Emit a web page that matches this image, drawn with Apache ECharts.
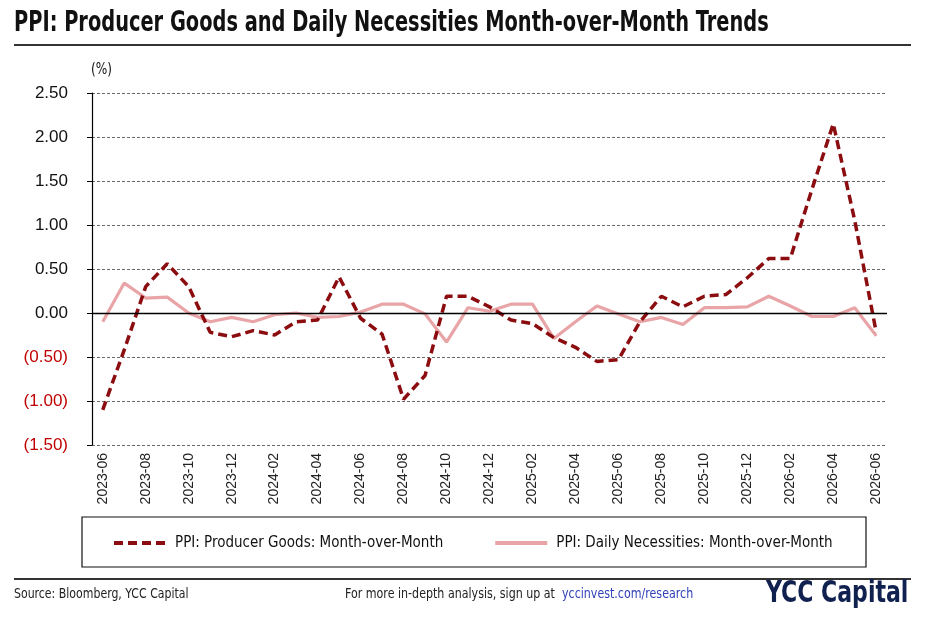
<!DOCTYPE html>
<html>
<head>
<meta charset="utf-8">
<script src="https://cdn.jsdelivr.net/npm/echarts@6/dist/echarts.min.js"></script>
<style>
  html, body { margin: 0; padding: 0; background: #fff; }
  #main { width: 926px; height: 627px; }
</style>
</head>
<body>
<div id="main"></div>
<script>
    // months on the x axis
    var months = [
        '2023-06','2023-07','2023-08','2023-09','2023-10','2023-11','2023-12',
        '2024-01','2024-02','2024-03','2024-04','2024-05','2024-06','2024-07','2024-08','2024-09','2024-10','2024-11','2024-12',
        '2025-01','2025-02','2025-03','2025-04','2025-05','2025-06','2025-07','2025-08','2025-09','2025-10','2025-11','2025-12',
        '2026-01','2026-02','2026-03','2026-04','2026-05','2026-06'
    ];
    // PPI producer goods, MoM (%)
    var producerGoods = [
        -1.10, -0.42, 0.30, 0.56, 0.30, -0.22, -0.27,
        -0.20, -0.25, -0.10, -0.08, 0.41, -0.06, -0.24, -0.98, -0.71, 0.19, 0.19, 0.07,
        -0.08, -0.12, -0.28, -0.39, -0.55, -0.53, -0.10, 0.19, 0.07, 0.19, 0.21, 0.40,
        0.62, 0.62, 1.40, 2.15, 1.05, -0.22
    ];
    // PPI daily necessities, MoM (%)
    var dailyNecessities = [
        -0.10, 0.34, 0.17, 0.18, 0.00, -0.10, -0.05,
        -0.10, -0.02, 0.00, -0.05, -0.04, 0.01, 0.10, 0.10, -0.01, -0.33, 0.06, 0.02,
        0.10, 0.10, -0.29, -0.10, 0.08, -0.01, -0.10, -0.05, -0.13, 0.06, 0.06, 0.07,
        0.19, 0.08, -0.04, -0.04, 0.06, -0.26
    ];
    var seriesNames = ['PPI: Producer Goods: Month-over-Month', 'PPI: Daily Necessities: Month-over-Month'];

    var narrow = "'DejaVu Sans Condensed', 'Liberation Sans Narrow', 'Roboto', sans-serif";
    var plain = "'Liberation Sans', Arial, sans-serif";

    var myChart = echarts.init(document.getElementById('main'));

    var option = {
        backgroundColor: '#fff',
        animation: false,
        grid: { left: 92, right: 39, top: 93, bottom: 182 },
        legend: {
            left: 107,
            top: 530,
            itemWidth: 52,
            itemHeight: 20,
            itemGap: 50,
            itemStyle: { opacity: 0 },
            lineStyle: { width: 4 },
            textStyle: { fontFamily: narrow, fontSize: 15, color: '#111', padding: [0, 0, 0, 4] },
            data: seriesNames
        },
        xAxis: {
            type: 'category',
            data: months,
            boundaryGap: true,
            axisLine: { show: false },
            axisTick: { show: false },
            axisLabel: {
                interval: 1,
                rotate: 90,
                margin: 8,
                fontFamily: plain,
                fontSize: 14,
                color: '#222'
            }
        },
        yAxis: {
            type: 'value',
            min: -1.5,
            max: 2.5,
            interval: 0.5,
            axisLine: { show: true, lineStyle: { color: '#000', width: 1.2 } },
            axisTick: { show: true, length: 5, lineStyle: { color: '#000' } },
            splitLine: { lineStyle: { color: '#444', width: 0.8, type: [3, 2] } },
            axisLabel: {
                margin: 24,
                fontFamily: plain,
                fontSize: 17,
                formatter: function (v) {
                    return v < 0 ? '(' + Math.abs(v).toFixed(2) + ')' : v.toFixed(2);
                },
                color: function (v) {
                    return Number(v) < 0 ? '#c00000' : '#111';
                }
            }
        },
        graphic: [
            // title, squeezed to look like the condensed face of the original
            { type: 'text', x: 14, y: 10, scaleX: 0.77, style: { text: 'PPI: Producer Goods and Daily Necessities Month-over-Month Trends', fontFamily: narrow, fontSize: 28, fontWeight: 'bold', fill: '#111' } },
            { type: 'line', shape: { x1: 14, y1: 45, x2: 911, y2: 45 }, style: { stroke: '#333', lineWidth: 2 } },
            { type: 'text', x: 91, y: 63, scaleX: 0.9, style: { text: '(%)', fontFamily: narrow, fontSize: 15, fill: '#111' } },
            { type: 'rect', shape: { x: 82, y: 517, width: 784, height: 50 }, style: { fill: 'none', stroke: '#111', lineWidth: 1.2 } },
            { type: 'line', shape: { x1: 14, y1: 579, x2: 911, y2: 579 }, style: { stroke: '#333', lineWidth: 2 } },
            { type: 'text', x: 14, y: 587, scaleX: 0.87, style: { text: 'Source: Bloomberg, YCC Capital', fontFamily: narrow, fontSize: 14, fill: '#222' } },
            {
                type: 'text', x: 345, y: 587, scaleX: 0.88,
                style: {
                    text: '{a|For more in-depth analysis, sign up at  }{b|yccinvest.com/research}',
                    rich: {
                        a: { fontFamily: narrow, fontSize: 14, fill: '#222' },
                        b: { fontFamily: narrow, fontSize: 14, fill: '#2e3fb8' }
                    }
                }
            },
            { type: 'text', x: 766, y: 578, scaleX: 0.79, style: { text: 'YCC Capital', fontFamily: narrow, fontSize: 31, fontWeight: 'bold', fill: '#10204f' } }
        ],
        series: [
            {
                name: seriesNames[0],
                type: 'line',
                data: producerGoods,
                symbol: 'none',
                z: 3,
                lineStyle: { color: '#8b0d10', width: 3.5, type: [9, 5] },
                itemStyle: { color: '#8b0d10' },
                markLine: {
                    silent: true,
                    symbol: 'none',
                    label: { show: false },
                    lineStyle: { color: '#000', type: 'solid', width: 1.3 },
                    data: [{ yAxis: 0 }]
                }
            },
            {
                name: seriesNames[1],
                type: 'line',
                data: dailyNecessities,
                symbol: 'none',
                z: 2,
                lineStyle: { color: '#e8a4a6', width: 3.2 },
                itemStyle: { color: '#e8a4a6' }
            }
        ]
    };
    myChart.setOption(option);
</script>
</body>
</html>
